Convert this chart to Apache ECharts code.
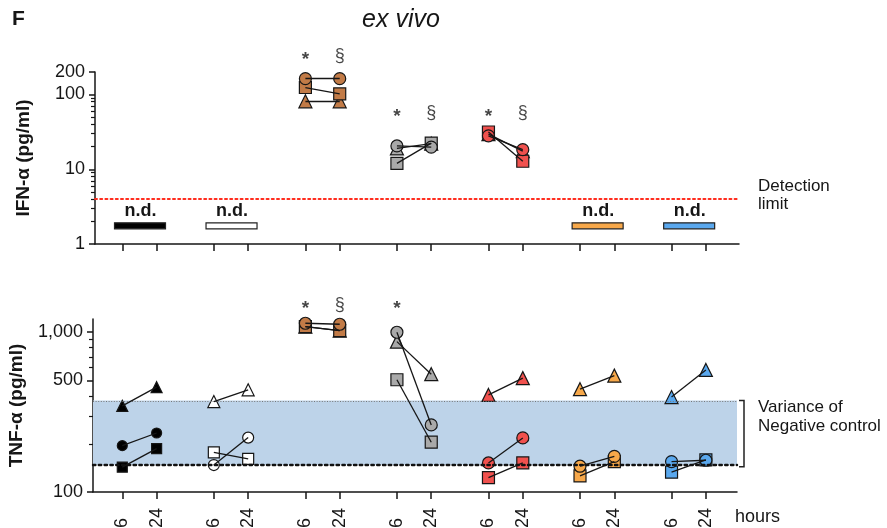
<!DOCTYPE html>
<html><head><meta charset="utf-8">
<script src="https://cdn.jsdelivr.net/npm/echarts@6/dist/echarts.min.js"></script>
<style>html,body{margin:0;padding:0;background:#fff}#c{width:887px;height:528px}</style>
</head><body><div id="c"></div>
<script>
// ---------- data ----------
const groups = ['black', 'white', 'brown', 'gray', 'red', 'orange', 'blue'];
const groupColors = ['#000000', '#FFFFFF', '#C27B47', '#A9A9A9', '#F0514E', '#F7A84A', '#5AA8EE'];
const hours = ['6', '24'];

// IFN-alpha (pg/ml), null = not detected
const ifnCircle6    = [null, null, 163, 20.5, 28,   null, null];
const ifnCircle24   = [null, null, 163, 19.8, 18.3, null, null];
const ifnSquare6    = [null, null, 124, 12,   31.5, null, null];
const ifnSquare24   = [null, null, 102, 22.4, 12.8, null, null];
const ifnTriangle6  = [null, null, 81,  19,   29.5, null, null];
const ifnTriangle24 = [null, null, 81,  22,   17.5, null, null];
const ifnNotDetected = [true, true, false, false, false, true, true];
const ifnNdLevel = 1.75;
const detectionLimit = 4;
const ifnTicksMajor = [1, 10, 100, 200];
const ifnTickLabels = ['1', '10', '100', '200'];
const ifnTicksMinor = [2, 3, 4, 5, 6, 7, 8, 9, 20, 30, 40, 50, 60, 70, 80, 90];
const ifnMax = 200;
const ifnSigMarks = [[2, 0, '*'], [2, 1, '§'], [3, 0, '*'], [3, 1, '§'], [4, 0, '*'], [4, 1, '§']];
const ifnSigLevel = [null, null, 330, 57, 57, null, null];

// TNF-alpha (pg/ml)
const tnfCircle6    = [195, 147.5, 1138, 1000, 152, 145, 155];
const tnfCircle24   = [234, 219,   1122, 263,  218, 167, 158];
const tnfSquare6    = [143, 177,   1083, 504,  123, 126, 133];
const tnfSquare24   = [187, 161,   1024, 205,  152, 155, 159];
const tnfTriangle6  = [346, 368,   1083, 873,  405, 440, 393];
const tnfTriangle24 = [453, 436,   1024, 546,  516, 535, 581];
const tnfTicksMajor = [100, 500, 1000];
const tnfTickLabels = ['100', '500', '1,000'];
const tnfTicksMinor = [200, 300, 400, 600, 700, 800, 900];
const tnfMin = 100, tnfMax = 1210;
const negCtrlLow = 148, negCtrlHigh = 374;
const tnfSigMarks = [[2, 0, '*'], [2, 1, '§'], [3, 0, '*']];
const tnfSigLevel = [null, null, 1480, 1480, null, null, null];

// ---------- helpers ----------
const L = Math.log10;
const FONT = 'Liberation Sans, Arial, Helvetica, sans-serif';
const xPos = (g, h) => g * 8 + (h === 0 ? 0 : 3);
const tickPositions = groups.flatMap((_, g) => [xPos(g, 0), xPos(g, 1)]);
const symSize = [10, 11, 12, 12, 12, 12, 12];
const INK = '#161616';

function labelFor(ticks, labels) {
  return v => {
    let best = 0;
    ticks.forEach((t, i) => { if (Math.abs(L(t) - v) < Math.abs(L(ticks[best]) - v)) best = i; });
    return labels[best];
  };
}

function shapeSeries(panel, sym, v6, v24, extraSize) {
  const data = [];
  groups.forEach((_, g) => {
    [[0, v6[g]], [1, v24[g]]].forEach(([h, v]) => {
      if (v == null) return;
      data.push({ value: [xPos(g, h), L(v)], symbolSize: symSize[g] + extraSize,
        itemStyle: { color: groupColors[g] } });
    });
  });
  return { type: 'scatter', xAxisIndex: panel, yAxisIndex: panel * 2, symbol: sym, data,
    itemStyle: { borderColor: INK, borderWidth: 1.2, opacity: 1 }, z: 3, silent: true, clip: false,
    emphasis: { disabled: true } };
}

function lineSeries(panel, pairs) {
  const data = [];
  pairs.forEach(([v6, v24]) => {
    groups.forEach((_, g) => {
      if (v6[g] == null || v24[g] == null) return;
      data.push({ coords: [[xPos(g, 0), L(v6[g])], [xPos(g, 1), L(v24[g])]] });
    });
  });
  return { type: 'lines', coordinateSystem: 'cartesian2d', xAxisIndex: panel, yAxisIndex: panel * 2,
    data, lineStyle: { color: INK, width: 1.3, opacity: 1, curveness: 0 }, z: 6, silent: true };
}

function sigSeries(panel, marks, levels) {
  return marks.map(([g, h, m]) => ({
    type: 'scatter', xAxisIndex: panel, yAxisIndex: panel * 2, symbol: 'circle', symbolSize: 1,
    itemStyle: { color: 'rgba(0,0,0,0)' }, clip: false, silent: true, z: 7,
    data: [[xPos(g, h), L(levels[g])]],
    label: { show: true, position: 'inside', formatter: m, color: INK,
      fontFamily: FONT, fontSize: m === '*' ? 19 : 18, fontWeight: m === '*' ? 'bold' : 'normal',
      offset: m === '*' ? [0, 4] : [0, 0] }
  }));
}

function yAxes(grid, min, max, major, labels, minor, name, gap) {
  return [
    { gridIndex: grid, type: 'value', min, max, position: 'left',
      name, nameLocation: 'middle', nameGap: gap, nameRotate: 90,
      nameTextStyle: { fontFamily: FONT, fontWeight: 'bold', fontSize: 19, color: INK },
      axisLine: { show: true, onZero: false, lineStyle: { color: INK, width: 1.5 } },
      axisTick: { show: true, length: 6, customValues: major.map(L), lineStyle: { color: INK, width: 1.5 } },
      axisLabel: { customValues: major.map(L), formatter: labelFor(major, labels), margin: 10,
        fontFamily: FONT, fontSize: 18, color: INK },
      splitLine: { show: false } },
    { gridIndex: grid, type: 'value', min, max, position: 'left',
      axisLine: { show: false, onZero: false },
      axisTick: { show: true, length: 4, customValues: minor.map(L), lineStyle: { color: INK, width: 1.2 } },
      axisLabel: { show: false }, splitLine: { show: false } }
  ];
}

const xAxisCommon = {
  type: 'value',
  axisLine: { show: true, onZero: false, lineStyle: { color: INK, width: 1.5 } },
  axisTick: { show: true, length: 7, customValues: tickPositions, lineStyle: { color: INK, width: 1.5 } },
  splitLine: { show: false }
};

const option = {
  animation: false,
  backgroundColor: '#fff',
  grid: [
    { left: 95, width: 644, top: 72, height: 172, outerBoundsMode: 'none', containLabel: false },
    { left: 93, width: 644, top: 319, height: 173, outerBoundsMode: 'none', containLabel: false }
  ],
  xAxis: [
    Object.assign({}, xAxisCommon, { gridIndex: 0, min: -2.39, max: 53.9, axisLabel: { show: false } }),
    Object.assign({}, xAxisCommon, { gridIndex: 1, min: -2.56, max: 53.72,
      axisLabel: { customValues: tickPositions, formatter: v => hours[(v % 8) === 0 ? 0 : 1],
        rotate: 90, align: 'left', verticalAlign: 'middle', margin: 36,
        fontFamily: FONT, fontSize: 18, color: INK } })
  ],
  yAxis: [
    ...yAxes(0, 0, L(ifnMax), ifnTicksMajor, ifnTickLabels, ifnTicksMinor, 'IFN-α (pg/ml)', 62),
    ...yAxes(1, L(tnfMin), L(tnfMax), tnfTicksMajor, tnfTickLabels, tnfTicksMinor, 'TNF-α (pg/ml)', 67)
  ],
  graphic: [
    { type: 'text', left: 12, top: 9, style: { text: 'F', font: 'bold 21px ' + FONT, fill: INK } },
    { type: 'text', x: 401, y: 20, style: { text: 'ex vivo', font: 'italic 25px ' + FONT, fill: INK,
      align: 'center', verticalAlign: 'middle' } },
    { type: 'text', x: 758, y: 177, style: { text: 'Detection\nlimit', font: '17px ' + FONT, lineHeight: 18, fill: INK } },
    { type: 'text', x: 758, y: 398, style: { text: 'Variance of\nNegative control', font: '17px ' + FONT, lineHeight: 19, fill: INK } },
    { type: 'text', x: 735, y: 508, style: { text: 'hours', font: '18px ' + FONT, fill: INK } }
  ],
  series: [
    // detection limit
    { type: 'line', xAxisIndex: 0, yAxisIndex: 0, data: [], silent: true, z: 1,
      markLine: { silent: true, symbol: 'none', label: { show: false },
        lineStyle: { color: '#FF2D1F', type: [2, 3.2], width: 2, cap: 'round' },
        data: [{ yAxis: L(detectionLimit) }] } },
    // not detected bars
    { type: 'custom', xAxisIndex: 0, yAxisIndex: 0, silent: true, z: 4, clip: false,
      data: groups.map((_, g) => ifnNotDetected[g] ? [ (xPos(g, 0) + xPos(g, 1)) / 2, L(ifnNdLevel), g ] : null).filter(d => d),
      renderItem: (params, api) => {
        const p = api.coord([api.value(0), api.value(1)]);
        const g = api.value(2);
        return { type: 'group', children: [
          { type: 'rect', shape: { x: p[0] - 25, y: p[1] - 3, width: 51, height: 6 },
            style: { fill: groupColors[g], stroke: '#222', lineWidth: 1.2 } },
          { type: 'text', style: { text: 'n.d.', x: p[0] + 1, y: p[1] - 6, align: 'center', verticalAlign: 'bottom',
            font: 'bold 18px ' + FONT, fill: INK } }
        ] };
      } },
    shapeSeries(0, 'triangle', ifnTriangle6, ifnTriangle24, 1),
    shapeSeries(0, 'rect', ifnSquare6, ifnSquare24, 0),
    shapeSeries(0, 'circle', ifnCircle6, ifnCircle24, 0),
    lineSeries(0, [[ifnTriangle6, ifnTriangle24], [ifnSquare6, ifnSquare24], [ifnCircle6, ifnCircle24]]),
    ...sigSeries(0, ifnSigMarks, ifnSigLevel),

    // negative control band
    { type: 'line', xAxisIndex: 1, yAxisIndex: 2, data: [], silent: true, z: 1,
      markArea: { silent: true, itemStyle: { color: '#BDD3E9' }, label: { show: false },
        data: [[{ yAxis: L(negCtrlLow) }, { yAxis: L(negCtrlHigh) }]] },
      markLine: { silent: true, symbol: 'none', label: { show: false },
        data: [
          { yAxis: L(negCtrlHigh), lineStyle: { color: '#777', type: [1, 1.6], width: 1.2 } },
          { yAxis: L(negCtrlLow), lineStyle: { color: '#111', type: [2.4, 3.4], width: 2.4, cap: 'round' } }
        ] } },
    // bracket
    { type: 'custom', xAxisIndex: 1, yAxisIndex: 2, silent: true, clip: false, z: 2,
      data: [[53.72, L(negCtrlLow), L(negCtrlHigh)]],
      renderItem: (params, api) => {
        const a = api.coord([api.value(0), api.value(2)]);
        const b = api.coord([api.value(0), api.value(1)]);
        const x = a[0] + 7;
        return { type: 'polyline', shape: { points: [[x - 5, a[1]], [x, a[1]], [x, b[1] + 2], [x - 5, b[1] + 2]] },
          style: { stroke: '#222', lineWidth: 1.5, fill: null } };
      } },
    shapeSeries(1, 'triangle', tnfTriangle6, tnfTriangle24, 1),
    shapeSeries(1, 'rect', tnfSquare6, tnfSquare24, 0),
    shapeSeries(1, 'circle', tnfCircle6, tnfCircle24, 0),
    lineSeries(1, [[tnfTriangle6, tnfTriangle24], [tnfSquare6, tnfSquare24], [tnfCircle6, tnfCircle24]]),
    ...sigSeries(1, tnfSigMarks, tnfSigLevel)
  ]
};

const chart = echarts.init(document.getElementById('c'), null, { renderer: 'canvas' });
chart.setOption(option);
</script>
</body></html>
